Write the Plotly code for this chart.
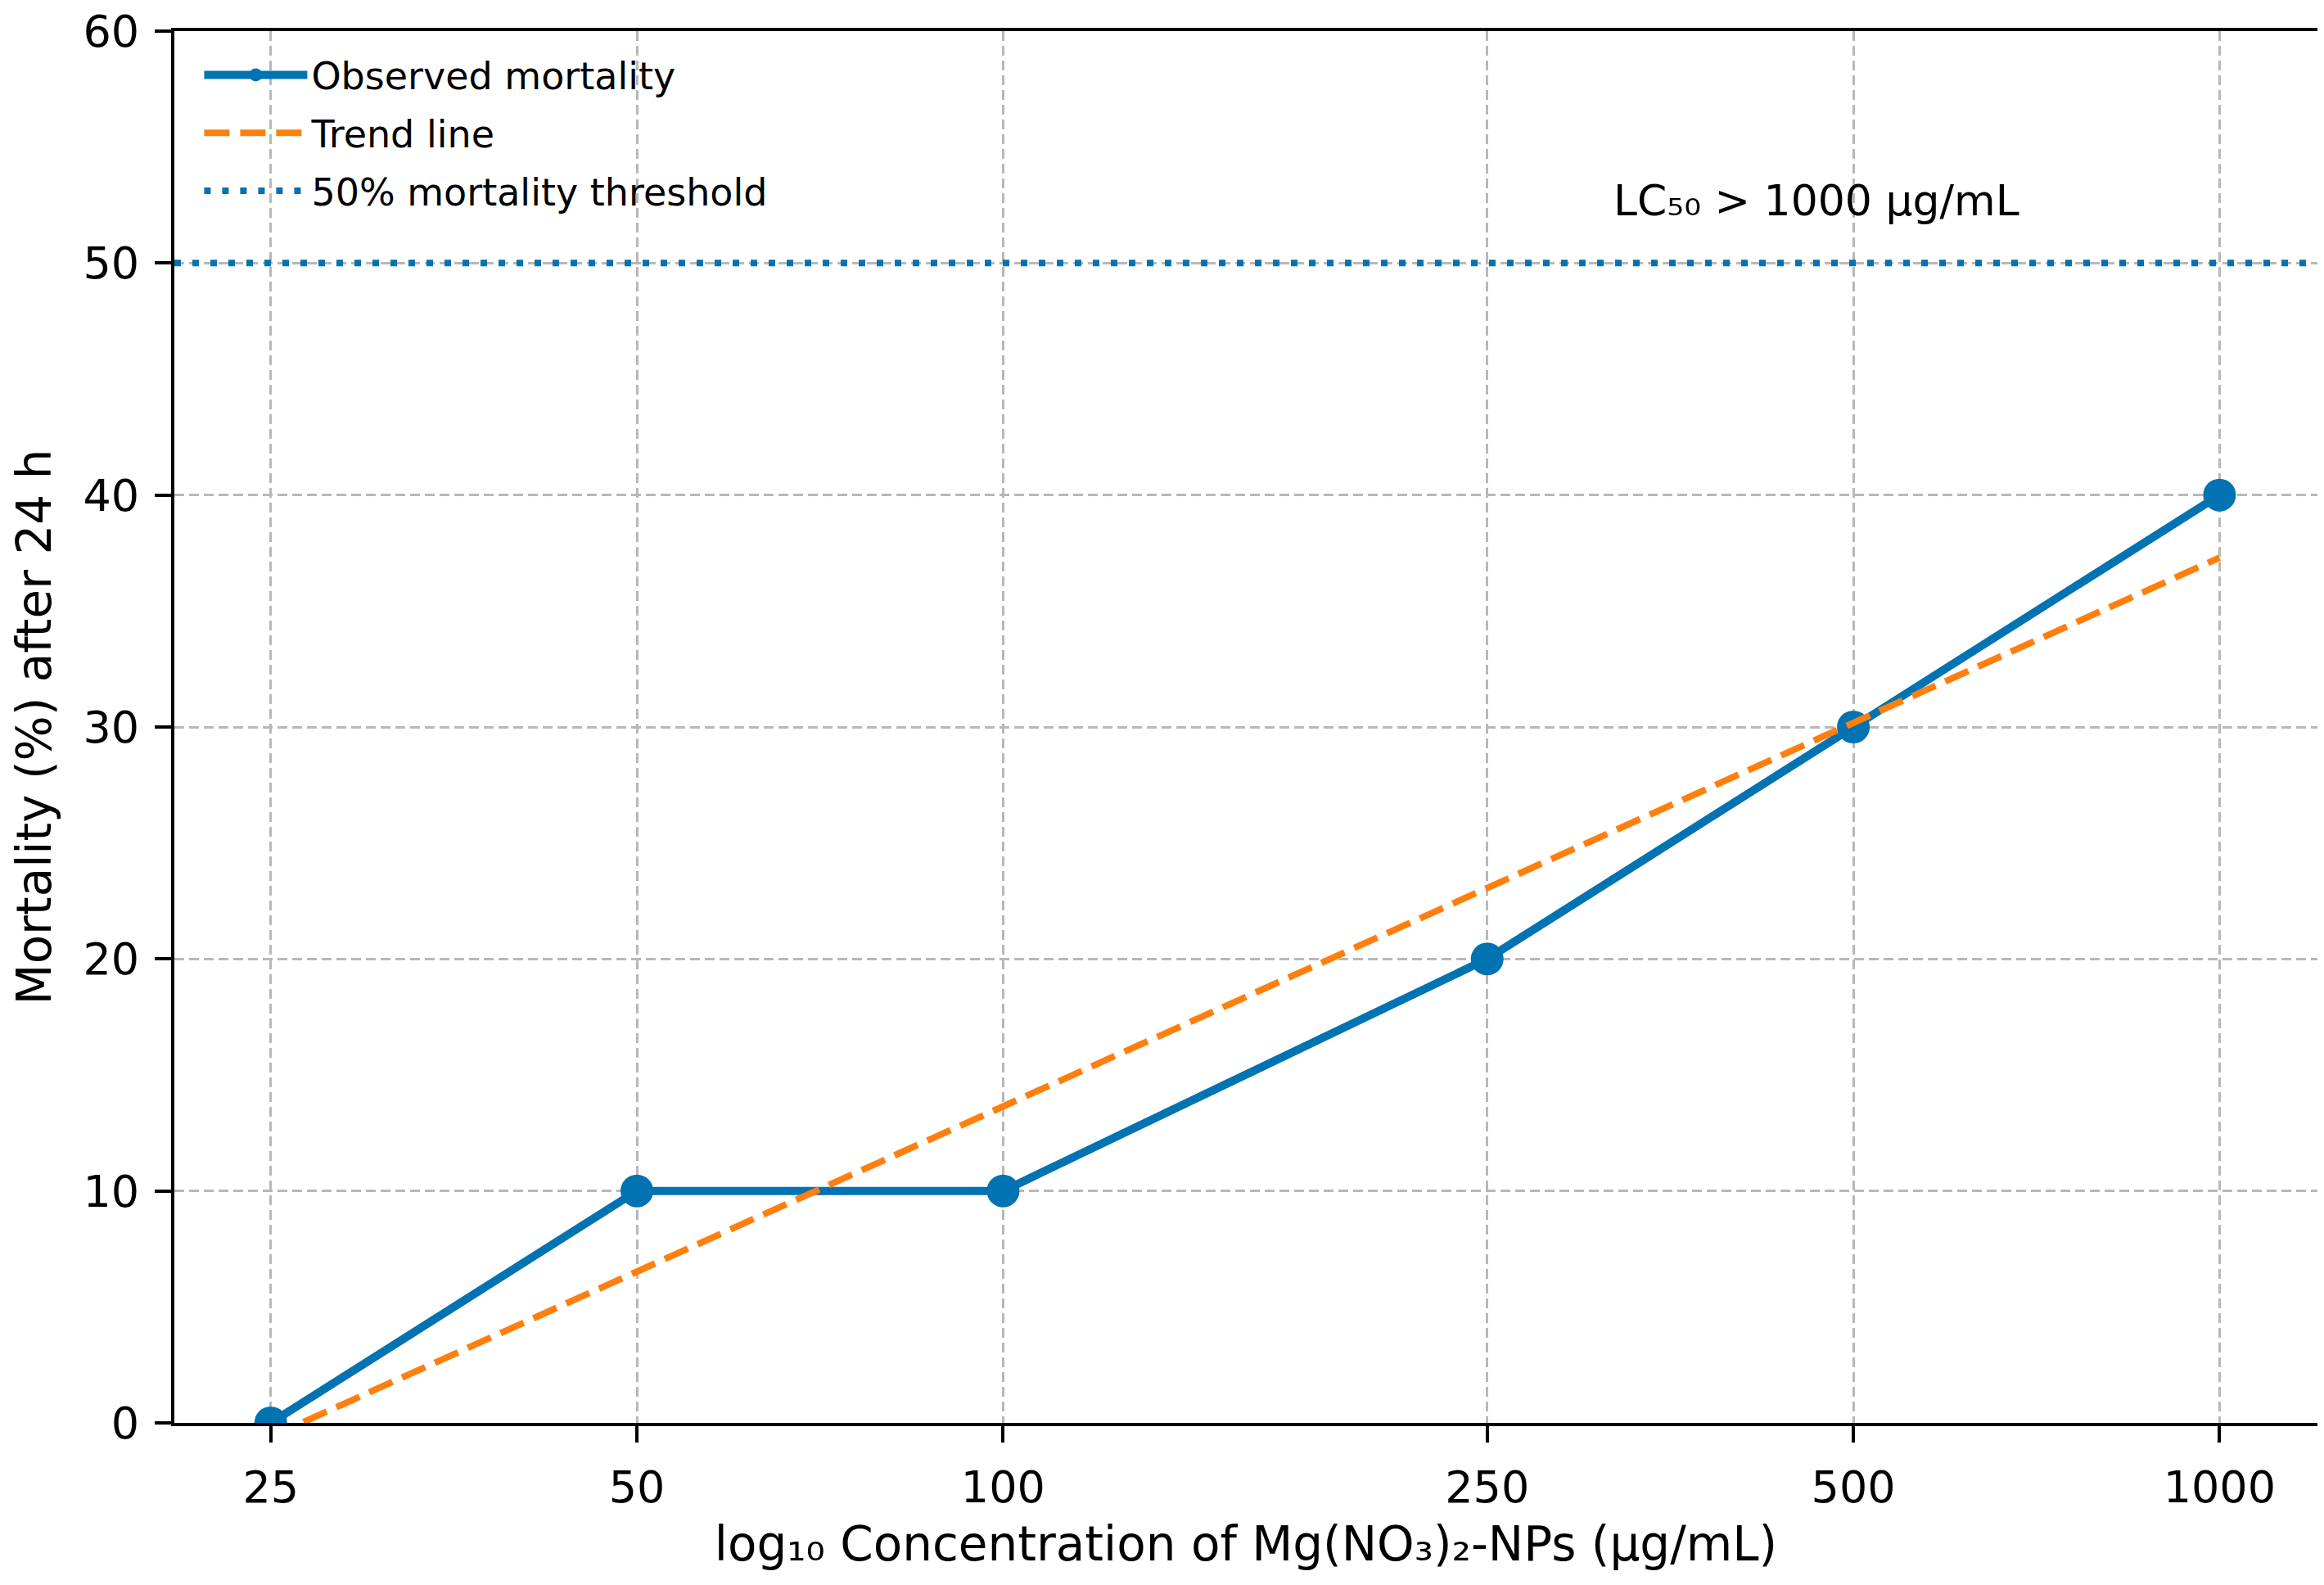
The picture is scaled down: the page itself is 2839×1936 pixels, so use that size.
import numpy as np
import plotly.graph_objects as go

# concentration (ug/mL) and observed 24 h mortality (%)
conc = [25, 50, 100, 250, 500, 1000]
mortality = [0, 10, 10, 20, 30, 40]

# trend line read at both ends of the range
trend_conc = [25, 1000]
trend_mort = [-0.6, 37.3]

threshold = 50
tick_labels = ["25", "50", "100", "250", "500", "1000"]

blue = "#0173b2"
orange = "#ff7f0e"
font = "DejaVu Sans"

fig = go.Figure()
fig.add_trace(go.Scatter(
    x=conc, y=mortality, mode="lines+markers", name="Observed mortality",
    line=dict(color=blue, width=10),
    marker=dict(color=blue, size=40),
    legendgroup="a",
))
fig.add_trace(go.Scatter(
    x=trend_conc, y=trend_mort, mode="lines", name="Trend line",
    line=dict(color=orange, width=8, dash="31px,13px"),
    legendgroup="b",
))
# legend entry for the threshold, the line itself is a shape
fig.add_trace(go.Scatter(
    x=[None], y=[None], mode="lines", name="50% mortality threshold",
    line=dict(color=blue, width=8, dash="8px,14px"),
    legendgroup="c",
))
fig.add_hline(y=threshold, line=dict(color=blue, width=8, dash="8px,14px"))

fig.add_annotation(
    x=np.log10(466), y=52.7, xref="x", yref="y",
    text="LC₅₀ > 1000 μg/mL", showarrow=False,
    font=dict(family=font, size=52, color="black"),
)

axis_style = dict(
    showline=True, linecolor="black", linewidth=4, mirror=True,
    ticks="outside", ticklen=20, tickwidth=4, tickcolor="black",
    ticklabelstandoff=8, ticklabeloverflow="allow",
    showgrid=True, gridcolor="#b8b8b8", gridwidth=3, griddash="12px,6px",
    zeroline=False, automargin=False,
    tickfont=dict(family=font, size=54, color="black"),
)

fig.update_xaxes(
    type="log", range=[1.3187, 3.0805],
    tickvals=conc, ticktext=tick_labels,
    title=dict(text="log₁₀ Concentration of Mg(NO₃)₂-NPs (μg/mL)",
               font=dict(family=font, size=58, color="black"), standoff=20),
    **axis_style,
)
fig.update_yaxes(
    range=[0, 60], tickvals=[0, 10, 20, 30, 40, 50, 60],
    title=dict(text="Mortality (%) after 24 h",
               font=dict(family=font, size=58, color="black"), standoff=40),
    **axis_style,
)

fig.update_layout(
    width=2839, height=1936,
    margin=dict(l=205, r=16, t=30, b=206),
    paper_bgcolor="white", plot_bgcolor="white",
    font=dict(family=font, color="black"),
    showlegend=True,
    legend=dict(
        x=0.012, y=0.99, xanchor="left", yanchor="top",
        bgcolor="rgba(255,255,255,0)",
        font=dict(family=font, size=46, color="black"),
        itemwidth=126, tracegroupgap=8,
    ),
)

fig.write_html("out.html")
